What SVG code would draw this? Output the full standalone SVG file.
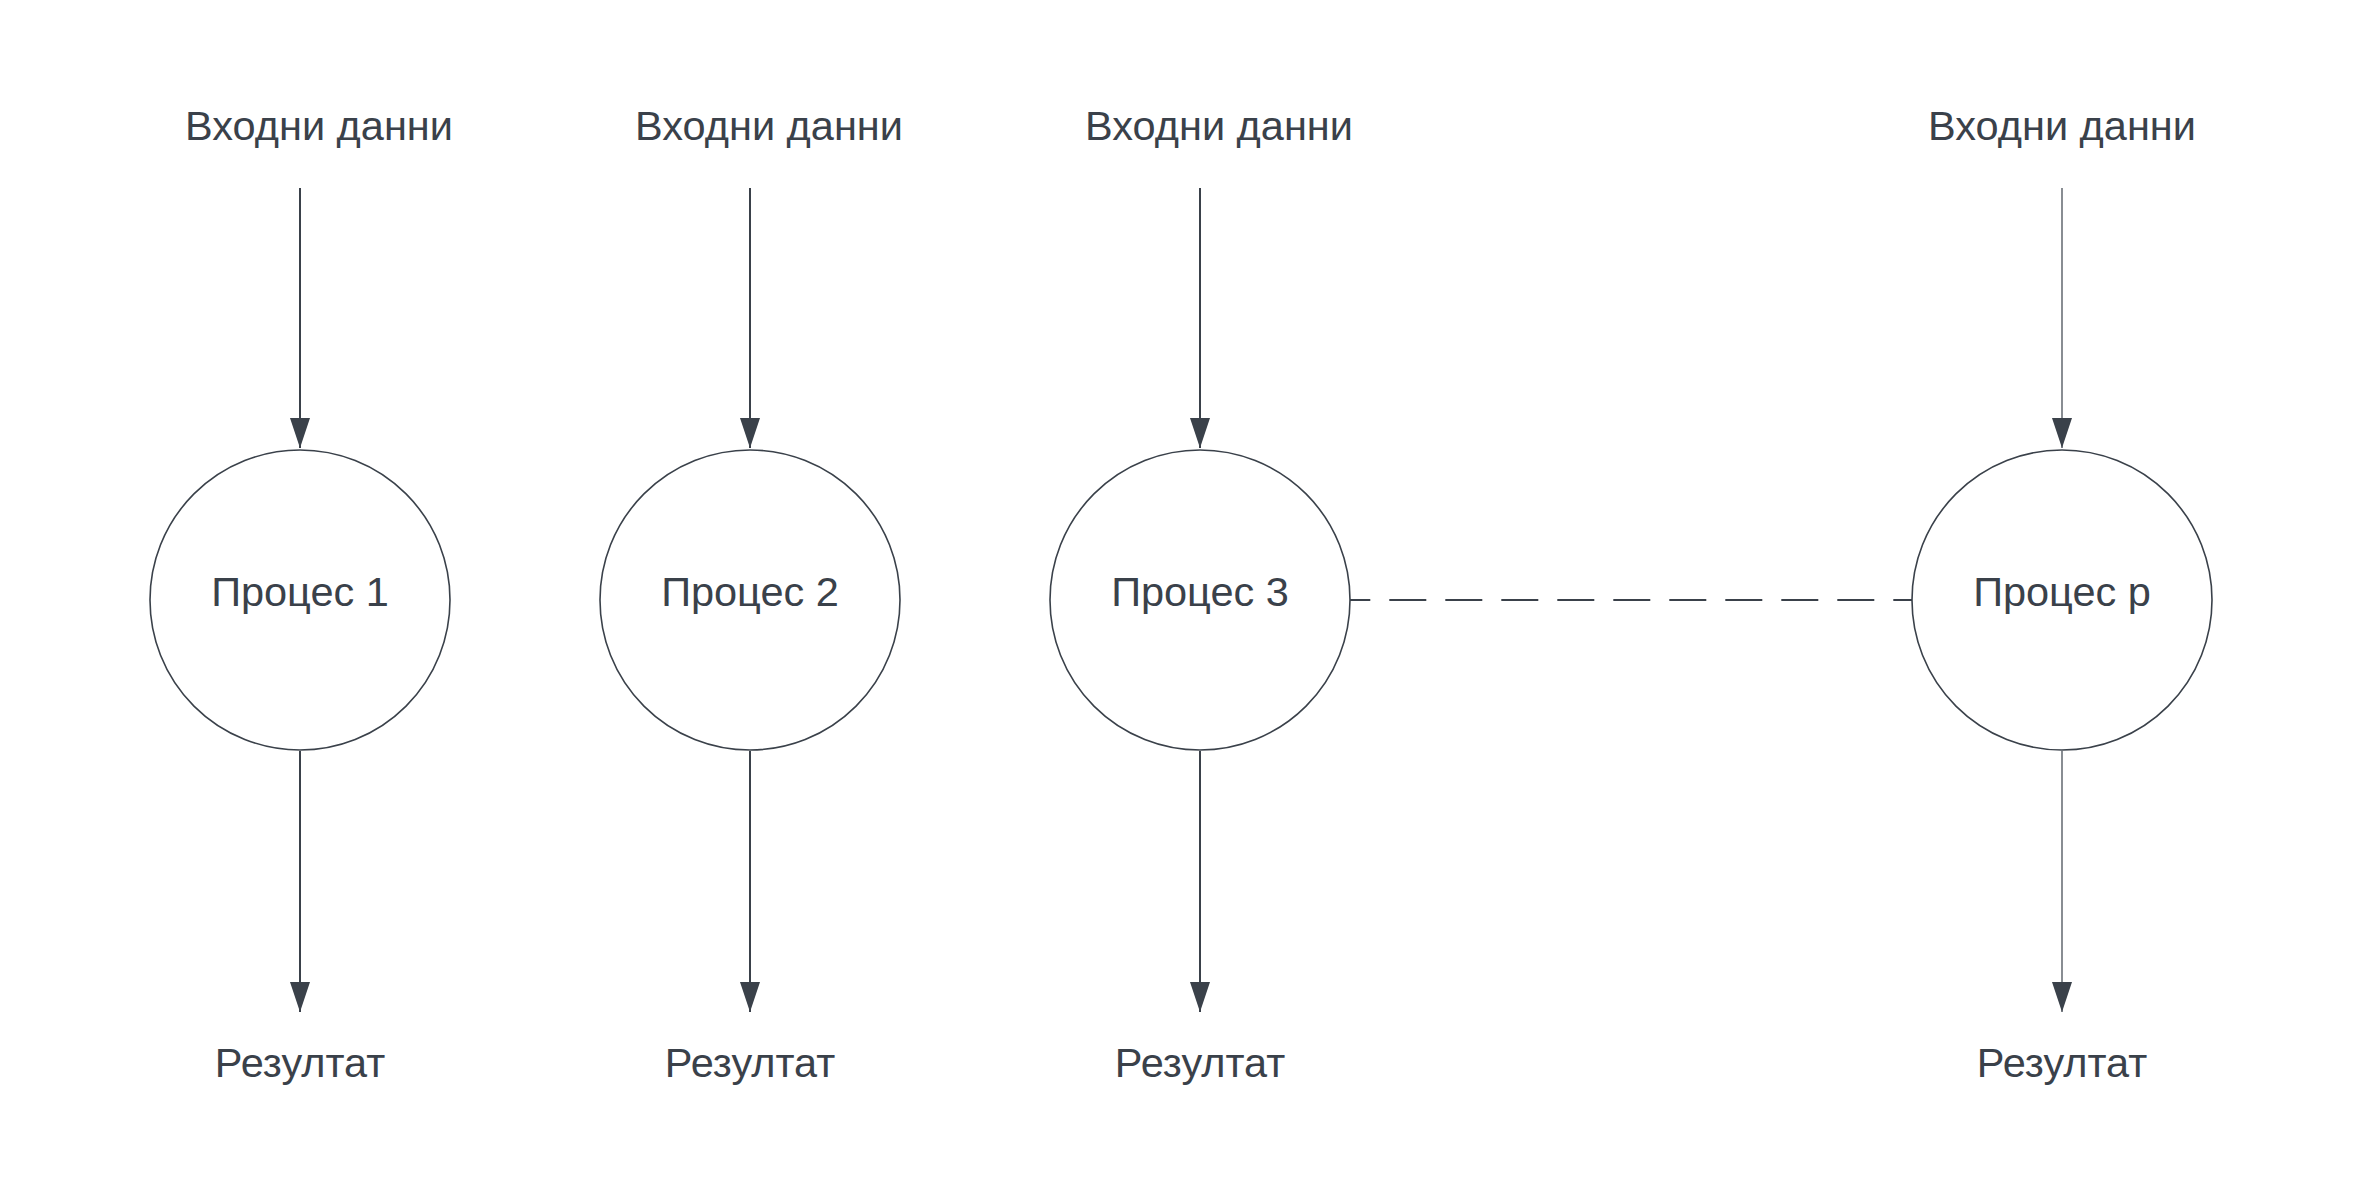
<svg xmlns="http://www.w3.org/2000/svg" width="2363" height="1200" viewBox="0 0 2363 1200">
<style>
text{font-family:"Liberation Sans",Arial,sans-serif;font-size:41.5px;fill:#3a414a;text-anchor:middle}
.node circle{fill:#ffffff;stroke:#3a414a;stroke-width:1.6}
.conn{stroke:#3a414a;fill:none;stroke-width:2}
.thin{stroke-width:1.2}
.dash{stroke-dasharray:37 19;stroke-dashoffset:16.7}
</style>
<defs>
<marker id="arr" markerUnits="userSpaceOnUse" markerWidth="30" markerHeight="20" viewBox="0 0 30 20" refX="30" refY="10" orient="auto">
<path d="M0,0 L30,10 L0,20 z" fill="#3a414a"/>
</marker>
</defs>
<rect width="2363" height="1200" fill="#ffffff"/>
<g id="connectors">
<line class="conn" x1="300" y1="188" x2="300" y2="448" marker-end="url(#arr)"/>
<line class="conn" x1="750" y1="188" x2="750" y2="448" marker-end="url(#arr)"/>
<line class="conn" x1="1200" y1="188" x2="1200" y2="448" marker-end="url(#arr)"/>
<line class="conn thin" x1="2062" y1="188" x2="2062" y2="448" marker-end="url(#arr)"/>
<line class="conn" x1="300" y1="751" x2="300" y2="1012" marker-end="url(#arr)"/>
<line class="conn" x1="750" y1="751" x2="750" y2="1012" marker-end="url(#arr)"/>
<line class="conn" x1="1200" y1="751" x2="1200" y2="1012" marker-end="url(#arr)"/>
<line class="conn thin" x1="2062" y1="751" x2="2062" y2="1012" marker-end="url(#arr)"/>
<line class="conn dash" x1="1350" y1="600" x2="1912" y2="600"/>
</g>
<g id="in1"><text x="319" y="139.5">Входни данни</text></g>
<g id="in2"><text x="769" y="139.5">Входни данни</text></g>
<g id="in3"><text x="1219" y="139.5">Входни данни</text></g>
<g id="inp"><text x="2062" y="139.5">Входни данни</text></g>
<g id="p1" class="node"><circle cx="300" cy="600" r="150"/><text x="300" y="606">Процес 1</text></g>
<g id="p2" class="node"><circle cx="750" cy="600" r="150"/><text x="750" y="606">Процес 2</text></g>
<g id="p3" class="node"><circle cx="1200" cy="600" r="150"/><text x="1200" y="606">Процес 3</text></g>
<g id="pp" class="node"><circle cx="2062" cy="600" r="150"/><text x="2062" y="606">Процес p</text></g>
<g id="out1"><text x="300" y="1077">Резултат</text></g>
<g id="out2"><text x="750" y="1077">Резултат</text></g>
<g id="out3"><text x="1200" y="1077">Резултат</text></g>
<g id="outp"><text x="2062" y="1077">Резултат</text></g>
</svg>
